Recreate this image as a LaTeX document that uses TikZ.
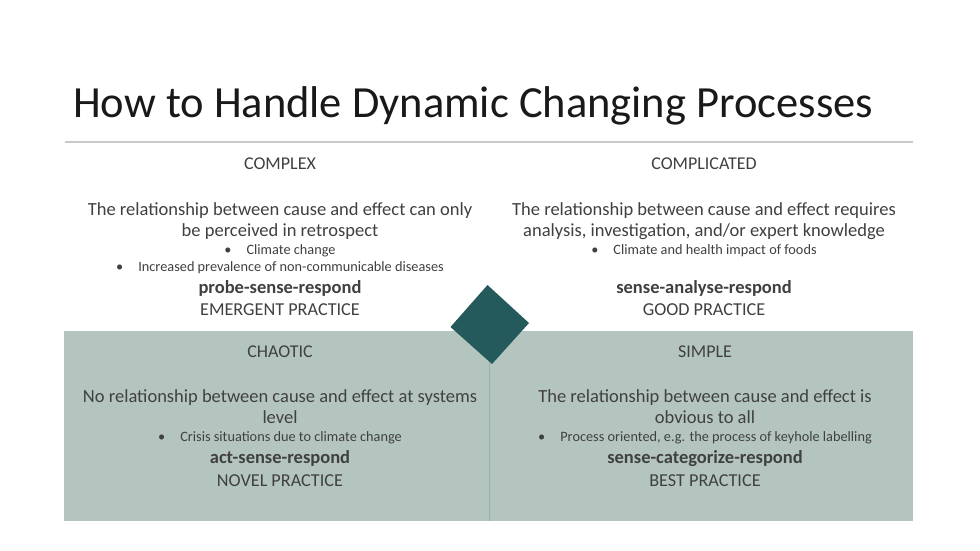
\documentclass[tikz,border=0pt]{standalone}
\usepackage{fontspec}
\setmainfont{Carlito}
\definecolor{boxgrey}{HTML}{B4C5BF}
\definecolor{divline}{HTML}{9DB0AA}
\definecolor{diam}{HTML}{245A5B}
\definecolor{txt}{HTML}{404040}
\definecolor{rule}{HTML}{C9C9C9}
\tikzset{
  base/.style={anchor=base, text=txt, inner sep=0pt},
  hdr/.style={base, font=\fontsize{18}{21}\selectfont},
  body/.style={base, font=\fontsize{18.5}{22}\selectfont},
  bul/.style={base, font=\fontsize{14.3}{17}\selectfont},
  bld/.style={base, font=\fontsize{18.5}{22}\selectfont\bfseries},
  prac/.style={base, font=\fontsize{18.2}{22}\selectfont},
}
\newcommand{\bt}[1]{\textbullet\hspace{15pt}#1}
\begin{document}
\begin{tikzpicture}[x=1pt,y=-1pt]
\useasboundingbox (0,0) rectangle (980,550);
\fill[white] (0,0) rectangle (980,550);
% title
\node[anchor=base west, inner sep=0pt, text=black!90, font=\fontsize{44.5}{52}\selectfont] (title) at (73,117) {How to Handle Dynamic Changing Processes};
\coordinate (r1) at (65,142);
\coordinate (r2) at (913,142);
\draw[rule, line width=1.3pt] (r1) -- (r2);
% bottom box
\fill[boxgrey] (64,331) rectangle (913,521);
\coordinate (d1) at (489,331);
\coordinate (d2) at (489,521);
\draw[divline, line width=1pt] (d1) -- (d2);
% diamond
\fill[diam] (487.5,285) -- (529,323) -- (492,364) -- (450.5,327) -- cycle;
\node[inner sep=0pt] (diamond) at (490,324) {};
% top left
\node[hdr] (cx) at (280,169) {COMPLEX};
\node[body] (cx1) at (280,215) {The relationship between cause and effect can only};
\node[body] (cx2) at (280,236) {be perceived in retrospect};
\node[bul] (cx3) at (280,254) {\bt{Climate change}};
\node[bul] (cx4) at (280,271) {\bt{Increased prevalence of non-communicable diseases}};
\node[bld] (cx5) at (280,293) {probe-sense-respond};
\node[prac] (cx6) at (280,315) {EMERGENT PRACTICE};
% top right
\node[hdr] (cd) at (704,169) {COMPLICATED};
\node[body] (cd1) at (704,215) {The relationship between cause and effect requires};
\node[body] (cd2) at (704,236) {analysis, investigation, and/or expert knowledge};
\node[bul] (cd3) at (704,254) {\bt{Climate and health impact of foods}};
\node[bld] (cd5) at (704,293) {sense-analyse-respond};
\node[prac] (cd6) at (704,315) {GOOD PRACTICE};
% bottom left
\node[hdr] (ch) at (280,357) {CHAOTIC};
\node[body] (ch1) at (280,402) {No relationship between cause and effect at systems};
\node[body] (ch2) at (280,423) {level};
\node[bul] (ch3) at (280,441) {\bt{Crisis situations due to climate change}};
\node[bld] (ch5) at (280,463) {act-sense-respond};
\node[prac] (ch6) at (280,486) {NOVEL PRACTICE};
% bottom right
\node[hdr] (sp) at (705,357) {SIMPLE};
\node[body] (sp1) at (705,402) {The relationship between cause and effect is};
\node[body] (sp2) at (705,423) {obvious to all};
\node[bul] (sp3) at (705,441) {\bt{Process oriented, e.g. the process of keyhole labelling}};
\node[bld] (sp5) at (705,463) {sense-categorize-respond};
\node[prac] (sp6) at (705,486) {BEST PRACTICE};
\end{tikzpicture}
\end{document}
